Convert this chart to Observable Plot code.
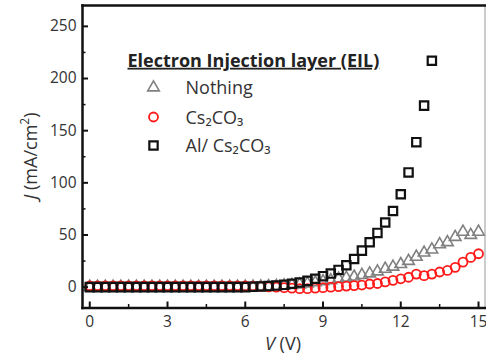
<!DOCTYPE html>
<html>
<head>
<meta charset="utf-8">
<script src="https://cdn.jsdelivr.net/npm/d3@7"></script>
<script src="https://cdn.jsdelivr.net/npm/@observablehq/plot@0.6"></script>
<style>
  html, body { margin: 0; padding: 0; background: #fff; }
  #chart svg { display: block; }
</style>
</head>
<body>
<div id="chart"></div>
<script>
// Voltage grid (V)
const V = [0, 0.3, 0.6, 0.9, 1.2, 1.5, 1.8, 2.1, 2.4, 2.7, 3.0, 3.3, 3.6, 3.9, 4.2, 4.5, 4.8, 5.1, 5.4, 5.7,
  6.0, 6.3, 6.6, 6.9, 7.2, 7.5, 7.8, 8.1, 8.4, 8.7, 9.0, 9.3, 9.6, 9.9, 10.2, 10.5, 10.8, 11.1, 11.4, 11.7,
  12.0, 12.3, 12.6, 12.9, 13.2, 13.5, 13.8, 14.1, 14.4, 14.7, 15.0];

// Current density J (mA/cm^2)
const jNothing = [0.3, 0.3, 0.3, 0.3, 0.3, 0.3, 0.3, 0.3, 0.3, 0.3, 0.3, 0.3, 0.3, 0.3, 0.3, 0.3, 0.3, 0.3, 0.3, 0.3,
  0.3, 0.4, 0.5, 0.7, 1, 1.5, 2, 2.5, 3.5, 4.5, 5.5, 6.5, 8, 9, 10, 11.5, 13, 15, 17.5, 19.5,
  22, 25, 29, 33, 36, 41, 43, 48, 53, 50, 53];
const jCs2CO3 = [1.3, 1.3, 1.3, 1.3, 1.3, 1.3, 1.3, 1.3, 1.3, 1.3, 1.3, 1.3, 1.3, 1.3, 1.3, 1.3, 1.3, 1.3, 1.3, 1.3,
  1.2, 1, 0.7, 0.3, 0, -0.5, -1, -1.5, -1.5, -1, -0.5, 0, 0.5, 1, 1.5, 2, 3, 3.5, 5, 6.5,
  8, 9.5, 12.5, 11, 12.5, 14.5, 16, 19, 24, 28.5, 32];
const jAl = [0, 0, 0, 0, 0, 0, 0, 0, 0, 0, 0, 0, 0, 0, 0, 0, 0, 0, 0, 0,
  0, 0.3, 0.6, 1, 1.5, 2.2, 3.2, 4.5, 6, 8, 10.5, 13, 16.5, 21, 27, 35, 43, 52, 62, 73,
  89, 110, 139, 174, 217];

const xTicks = [0, 3, 6, 9, 12, 15];
const xMinor = [1.5, 4.5, 7.5, 10.5, 13.5];
const yTicks = [0, 50, 100, 150, 200, 250];
const yMinor = [25, 75, 125, 175, 225];

const legendTitle = "Electron Injection layer (EIL)";
const seriesNames = ["Nothing", "Cs\u2082CO\u2083", "Al/ Cs\u2082CO\u2083"];

const font = "'Open Sans', Lato, sans-serif";
const W = 486, H = 358;
const mL = 82, mR = 1.5, mT = 5, mB = 50.5;
const plotH = H - mT - mB, plotW = W - mL - mR;

const nothing = V.map((v, i) => ({v, j: jNothing[i]}));
const cs = V.map((v, i) => ({v, j: jCs2CO3[i]}));
const al = jAl.map((j, i) => ({v: V[i], j}));

const legendRows = [
  {name: seriesNames[0], symbol: "triangle", stroke: "#808080", r: 4.3, sw: 1.6, dy: 82},
  {name: seriesNames[1], symbol: "circle", stroke: "#ff1a1a", r: 4.5, sw: 1.8, dy: 111.5},
  {name: seriesNames[2], symbol: "square", stroke: "#111", r: 4.7, sw: 2.2, dy: 140}
];

const chart = Plot.plot({
  width: W, height: H,
  marginLeft: mL, marginRight: mR, marginTop: mT, marginBottom: mB,
  style: {fontFamily: font, background: "#fff"},
  x: {domain: [-0.28, 15.25]},
  y: {domain: [-20, 270]},
  marks: [
    // data
    Plot.dot(nothing, {x: "v", y: "j", symbol: "triangle", r: 4.3, stroke: "#808080", strokeWidth: 1.6, fill: "none"}),
    Plot.dot(cs, {x: "v", y: "j", symbol: "circle", r: 4.5, stroke: "#ff1a1a", strokeWidth: 1.8, fill: "none"}),
    Plot.dot(al, {x: "v", y: "j", symbol: "square", r: 4.7, stroke: "#111", strokeWidth: 2.2, fill: "none"}),
    // inward ticks
    Plot.ruleX(xTicks, {stroke: "#111", strokeWidth: 2, insetTop: plotH - 6}),
    Plot.ruleX(xMinor, {stroke: "#111", strokeWidth: 1.5, insetTop: plotH - 3.5}),
    Plot.ruleY(yTicks, {stroke: "#111", strokeWidth: 2, insetRight: plotW - 6}),
    Plot.ruleY(yMinor, {stroke: "#111", strokeWidth: 1.5, insetRight: plotW - 3.5}),
    // tick labels
    Plot.axisX(xTicks, {tickSize: 0, tickPadding: 8, fontSize: 15.5, fill: "#333", label: null}),
    Plot.axisY(yTicks, {tickSize: 0, tickPadding: 6, fontSize: 15.5, fill: "#333", label: null}),
    // frame
    Plot.frame({anchor: "right", stroke: "#999", strokeWidth: 1}),
    Plot.frame({anchor: "top", stroke: "#111", strokeWidth: 2.5}),
    Plot.frame({anchor: "left", stroke: "#111", strokeWidth: 2.5}),
    Plot.frame({anchor: "bottom", stroke: "#111", strokeWidth: 2.5}),
    // legend
    Plot.text([legendTitle], {frameAnchor: "top-left", dx: 45, dy: 55.5, text: d => d, textAnchor: "start",
      lineAnchor: "middle", fontSize: 18, fontWeight: "bold", fill: "#222", className: "legend-title"}),
    ...legendRows.map(row => Plot.dot([row], {frameAnchor: "top-left", dx: 71, dy: row.dy,
      symbol: row.symbol, r: row.r, stroke: row.stroke, strokeWidth: row.sw, fill: "none"})),
    ...legendRows.map(row => Plot.text([row], {frameAnchor: "top-left", dx: 103, dy: row.dy + 1, text: "name",
      textAnchor: "start", lineAnchor: "middle", fontSize: 18, fill: "#333"}))
  ]
});

document.getElementById("chart").appendChild(chart);

const svg = d3.select(chart);
svg.selectAll(".legend-title text").style("text-decoration", "underline");

// x-axis title
const xt = svg.append("text")
  .attr("x", 283).attr("y", 350)
  .attr("text-anchor", "middle")
  .attr("font-family", font).attr("font-size", 18).attr("fill", "#333");
xt.append("tspan").attr("font-style", "italic").text("V");
xt.append("tspan").text(" (V)");

// y-axis title
const yt = svg.append("text")
  .attr("transform", "translate(37,156) rotate(-90)")
  .attr("text-anchor", "middle")
  .attr("font-family", font).attr("font-size", 18).attr("fill", "#333");
yt.append("tspan").attr("font-style", "italic").text("J");
yt.append("tspan").text(" (mA/cm");
yt.append("tspan").attr("font-size", 12).attr("dy", -8).text("2");
yt.append("tspan").attr("dy", 8).text(")");
</script>
</body>
</html>
